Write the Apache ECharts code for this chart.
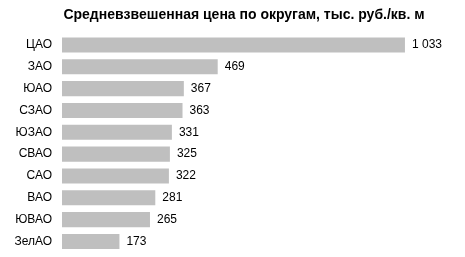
<!DOCTYPE html>
<html><head><meta charset="utf-8">
<script src="https://cdn.jsdelivr.net/npm/echarts@6/dist/echarts.min.js"></script>
<style>html,body{margin:0;padding:0;background:#fff}#c{width:465px;height:257px}</style>
</head><body><div id="c"></div>
<script>
var categories = ["ЦАО","ЗАО","ЮАО","СЗАО","ЮЗАО","СВАО","САО","ВАО","ЮВАО","ЗелАО"];
var values = [1033,469,367,363,331,325,322,281,265,173];
var titleText = "Средневзвешенная цена по округам, тыс. руб./кв. м";

var chart = echarts.init(document.getElementById('c'));
chart.setOption({
  animation:false,
  backgroundColor:'#fff',
  title:{text:titleText,left:239,textAlign:'center',top:3,
    textStyle:{fontFamily:'Liberation Sans, Arial',fontSize:14,fontWeight:'bold',color:'#000'}},
  grid:{left:62,right:4.6,top:34,bottom:4.6,containLabel:false},
  xAxis:{type:'value',min:0,max:1200,show:false},
  yAxis:{type:'category',data:categories,inverse:true,
    axisLine:{show:false},axisTick:{show:false},
    axisLabel:{margin:10,color:'#000',fontFamily:'Liberation Sans, Arial',fontSize:12}},
  series:[{type:'bar',data:values,barCategoryGap:'31%',
    itemStyle:{color:'#bfbfbf'},
    label:{show:true,position:'right',distance:7,color:'#000',fontFamily:'Liberation Sans, Arial',fontSize:12,
      formatter:function(p){return String(p.value).replace(/\B(?=(\d{3})+(?!\d))/g,' ');}}}]
});
</script></body></html>
